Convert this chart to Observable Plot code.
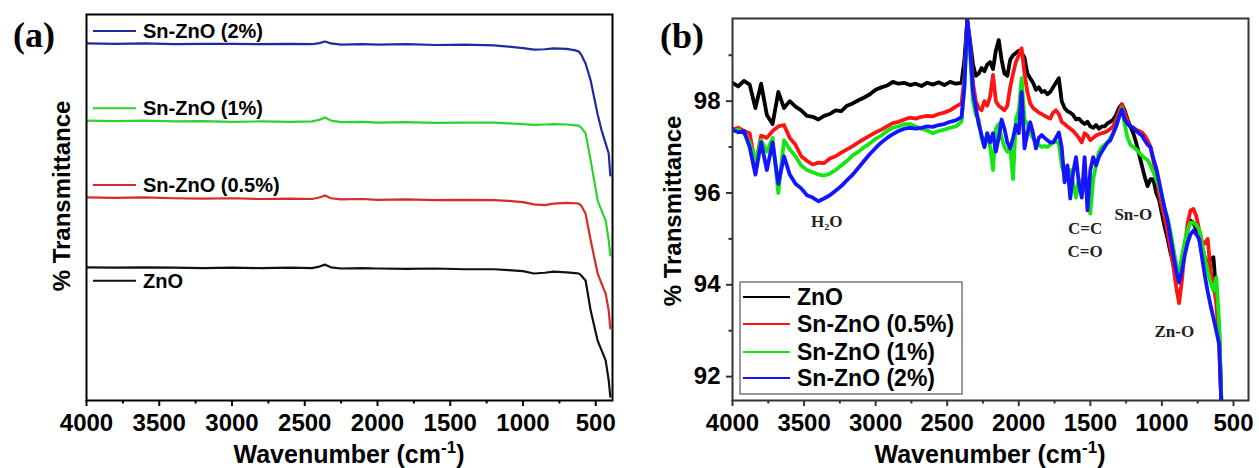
<!DOCTYPE html>
<html><head><meta charset="utf-8">
<script src="https://cdn.jsdelivr.net/npm/d3@7"></script>
<script src="https://cdn.jsdelivr.net/npm/@observablehq/plot@0.6"></script>
<style>
body{margin:0;background:#fff;}
#wrap{position:relative;width:1259px;height:468px;overflow:hidden;background:#fff;}
#pa{position:absolute;left:0;top:0;}
#pb{position:absolute;left:630px;top:0;}
</style></head><body><div id="wrap"><div id="pa"></div><div id="pb"></div></div>
<script>
// ---------- Panel (a) data ----------
const wnA = [4000,3800,3600,3400,3200,3000,2800,2600,2450,2400,2360,2320,2250,2100,2000,1800,1600,1400,1200,1100,1000,925,850,790,700,640,617,600,570,535,487,460,432,411,400];
const aBlue  = [92.5,92.4,92.5,92.3,92.4,92.4,92.3,92.4,92.3,92.6,93.0,92.5,92.2,92.3,92.2,92.3,92.1,92.2,92.0,91.7,91.3,90.9,91.0,91.2,91.1,90.7,90.4,89.6,87.3,82.9,74.1,70.0,66.6,64.0,58.3];
const aGreen = [72.5,72.4,72.5,72.3,72.4,72.2,72.3,72.2,72.3,72.7,73.3,72.5,72.1,72.2,72.0,72.1,71.9,72.0,72.0,71.8,71.6,71.4,71.5,71.6,71.5,71.3,71.2,70.7,69.2,62.2,51.8,49.2,46.6,41.5,37.6];
const aRed   = [52.6,52.5,52.6,52.4,52.3,52.4,52.2,52.3,52.2,52.6,53.1,52.4,52.1,52.2,52.0,52.1,51.9,52.0,51.9,51.7,51.4,50.8,50.6,51.0,51.2,51.1,51.0,50.5,48.4,41.5,32.9,30.3,27.7,23.3,18.7];
const aBlack = [34.5,34.4,34.5,34.4,34.3,34.4,34.3,34.4,34.3,34.7,35.2,34.5,34.2,34.3,34.2,34.1,34.2,34.0,34.0,33.8,33.5,32.9,33.1,33.4,33.2,33.0,32.9,32.4,31.1,23.3,15.5,13.0,10.4,5.2,1.0];
const namesA = ["Sn-ZnO (2%)","Sn-ZnO (1%)","Sn-ZnO (0.5%)","ZnO"];

// ---------- Panel (b) data ----------
const wnB = [4000,3960,3920,3880,3840,3800,3760,3720,3680,3640,3600,3560,3520,3480,3440,3400,3360,3320,3280,3240,3200,3160,3120,3080,3040,3000,2960,2920,2880,2840,2800,2760,2720,2680,2640,2600,2560,2520,2480,2440,2400,
2380,2360,2340,2320,2300,2280,2260,2240,2220,2200,2180,2160,2140,2120,2100,2080,2060,2040,2020,2000,1980,1960,1940,1920,1900,1880,1860,1840,1820,1800,1780,1760,1740,1720,1700,1680,1660,1640,1620,1600,1580,1560,1540,1520,1500,1480,1460,1440,1420,1400,1380,1360,1340,1320,1300,1280,1260,1240,1220,1200,1180,1160,1140,1120,1100,1080,1060,1040,1020,1000,980,960,940,920,900,880,860,840,820,800,780,760,740,720,700,680,660,640,620,600,580];
const bZnO = [98.40,98.32,98.44,98.36,97.85,98.38,97.70,97.50,98.20,97.85,
98.00,97.88,97.80,97.68,97.66,97.60,97.68,97.72,97.80,97.78,
97.90,97.95,98.02,98.08,98.15,98.25,98.30,98.34,98.42,98.38,
98.40,98.35,98.38,98.33,98.40,98.36,98.41,98.35,98.42,98.38,
98.40,
98.90,99.75,99.30,98.80,98.55,98.60,98.72,98.65,98.80,98.85,
98.70,99.10,99.33,98.90,98.60,98.55,98.90,99.00,99.05,99.10,
99.05,98.95,98.60,98.50,98.40,98.25,98.30,98.20,98.22,98.15,
98.20,98.30,98.40,98.50,98.00,97.85,97.78,97.75,97.70,97.60,
97.62,97.55,97.50,97.55,97.45,97.42,97.48,97.40,97.45,97.45,
97.52,97.55,97.60,97.70,97.85,97.93,97.80,97.60,97.45,97.30,
97.10,96.85,96.60,96.35,96.15,96.30,96.30,96.00,95.85,95.55,
95.25,95.00,94.70,94.45,94.25,94.25,94.55,94.85,95.20,95.40,
95.35,95.20,95.00,94.80,94.60,94.45,94.55,94.60,93.80,93.00,
91.00];
const bSn05 = [97.38,97.42,97.35,97.30,96.60,97.25,97.20,97.35,97.45,97.48,
97.20,97.05,96.80,96.70,96.62,96.66,96.65,96.75,96.80,96.88,
96.95,97.02,97.10,97.18,97.25,97.32,97.38,97.45,97.52,97.55,
97.60,97.64,97.62,97.66,97.68,97.67,97.72,97.75,97.80,97.88,
97.95,
98.50,99.75,99.20,98.40,98.00,97.85,97.80,98.00,97.90,98.10,
98.57,98.00,97.90,97.85,97.80,97.90,98.30,98.60,98.85,99.00,
99.15,98.60,98.20,97.95,97.85,97.80,97.75,97.72,97.68,97.65,
97.62,97.75,97.80,97.72,97.55,97.50,97.45,97.40,97.35,97.28,
97.20,97.10,97.30,97.25,97.15,97.20,97.25,97.28,97.30,97.32,
97.35,97.40,97.45,97.60,97.75,97.93,97.75,97.55,97.45,97.42,
97.38,97.35,97.32,97.25,97.15,97.00,96.70,96.40,96.00,95.70,
95.45,95.15,94.80,94.40,93.95,93.60,94.10,94.80,95.35,95.62,
95.65,95.50,95.20,94.95,94.90,95.00,94.30,94.00,93.60,92.70,
91.00];
const bSn1 = [97.35,97.38,97.30,97.10,96.70,97.15,96.90,97.20,96.00,97.15,
96.95,96.80,96.60,96.50,96.45,96.40,96.38,96.42,96.50,96.60,
96.70,96.82,96.90,97.00,97.08,97.18,97.25,97.35,97.42,97.45,
97.50,97.50,97.45,97.40,97.36,97.30,97.35,97.38,97.42,97.45,
97.55,
98.30,99.70,99.00,98.00,97.70,97.60,97.20,97.00,97.30,97.00,
96.50,97.40,97.50,97.20,97.00,96.90,97.00,96.30,97.60,97.80,
98.50,97.60,97.50,97.30,97.20,97.10,97.05,97.00,97.02,97.00,
97.05,97.10,97.12,97.08,96.60,96.40,96.45,96.50,96.20,95.90,
96.30,96.00,96.20,95.90,95.55,96.30,96.60,96.90,97.00,97.05,
97.10,97.20,97.30,97.45,97.65,97.85,97.50,97.20,97.05,97.00,
96.95,96.88,96.82,96.76,96.72,96.60,96.45,96.30,96.15,95.90,
95.65,95.45,95.15,94.80,94.45,94.25,94.60,94.95,95.20,95.35,
95.36,95.30,95.20,94.90,94.60,94.30,94.05,93.87,94.16,93.15,
91.00];
const bSn2 = [97.38,97.32,97.35,97.00,96.40,97.10,96.50,97.10,96.20,96.80,
96.40,96.20,96.10,95.95,95.90,95.82,95.88,95.95,96.05,96.15,
96.28,96.40,96.55,96.70,96.85,96.98,97.10,97.20,97.28,97.35,
97.40,97.42,97.40,97.42,97.45,97.44,97.48,97.50,97.55,97.58,
97.65,
98.30,99.80,99.20,98.20,97.85,97.50,97.26,97.00,97.30,97.10,
97.30,96.90,97.20,97.60,97.40,97.10,96.97,97.20,97.48,97.30,
98.20,96.97,97.30,97.54,97.30,96.97,97.20,97.26,97.20,97.15,
97.10,97.10,97.20,97.32,97.00,96.23,96.60,95.88,96.45,96.78,
96.20,95.90,96.78,95.62,96.50,96.78,96.60,96.78,96.90,97.00,
97.10,97.15,97.30,97.45,97.65,97.82,97.60,97.50,97.45,97.42,
97.35,97.30,97.25,97.15,97.05,97.00,96.75,96.55,96.25,95.95,
95.65,95.40,95.03,94.65,94.30,94.05,94.30,94.65,94.92,95.10,
95.18,95.10,95.00,94.60,94.20,93.85,93.55,93.28,93.00,92.70,
91.00];
const namesB = ["ZnO","Sn-ZnO (0.5%)","Sn-ZnO (1%)","Sn-ZnO (2%)"];

// axis ticks
const xMajor = [4000,3500,3000,2500,2000,1500,1000,500];
const xMinor = [3750,3250,2750,2250,1750,1250,750];
const yMajorB = [92,94,96,98];
const yMinorB = [93,95,97,99];

// annotations in panel (b)
const annText = ["H\u2082O","C=C","C=O","Sn-O","Zn-O"];
const annWn   = [3342,1536,1536,1200,913];
const annT    = [95.38,95.22,94.72,95.53,92.98];

// ---------- styling ----------
const SANS = '"Liberation Sans", Arial, sans-serif';
const SERIF = '"Liberation Serif", "Times New Roman", serif';
const colorsA = ["#1f2a9e","#2fd12f","#d52b2b","#111111"];
const colorsB = ["#000000","#ff1414","#14e614","#1414ff"];

function rows(wn, names, series){
  return names.flatMap((n,k)=> wn.map((w,i)=>({wn:w, t:series[k][i], name:n})));
}
const rowsA = rows(wnA, namesA, [aBlue,aGreen,aRed,aBlack]);
const rowsB = rows(wnB, namesB, [bZnO,bSn05,bSn1,bSn2]);

function addText(g, x, y, parts, opts){
  const t = g.append("text").attr("x",x).attr("y",y)
    .attr("font-family",opts.family||SANS).attr("font-weight","bold")
    .attr("font-size",opts.size).attr("fill",opts.fill||"#000")
    .attr("text-anchor",opts.anchor||"start");
  if (opts.transform) t.attr("transform",opts.transform);
  if (opts.baseline) t.attr("dominant-baseline",opts.baseline);
  if (typeof parts === "string") t.text(parts);
  else parts.forEach(p=>{ const s=t.append("tspan").text(p.text); if(p.size) s.attr("font-size",p.size); if(p.dy) s.attr("dy",p.dy); });
  return t;
}
function wavenumberLabel(g, cx, y){
  addText(g, cx, y, [{text:"Wavenumber (cm"},{text:"-1",size:17,dy:-10},{text:")",dy:10}], {size:25, anchor:"middle"});
}

// ---------- Panel (a) ----------
const A = Plot.plot({
  width:630, height:468, marginLeft:86, marginRight:18, marginTop:14, marginBottom:68,
  style:{fontFamily:SANS, fontWeight:"bold", fontSize:"24px", color:"#000", background:"#fff", overflow:"visible"},
  x:{domain:[4000,385]},
  y:{domain:[0,100], axis:null},
  color:{domain:namesA, range:colorsA},
  marks:[
    Plot.line(rowsA, {x:"wn", y:"t", z:"name", stroke:"name", strokeWidth:2.2, clip:true}),
    Plot.axisX({ticks:xMajor, tickFormat:d=>String(d), tickSize:6, tickPadding:7, strokeWidth:2, label:null, fontSize:24, fontWeight:"bold"}),
    Plot.axisX({ticks:xMinor, tickFormat:()=>"", tickSize:3.5, strokeWidth:2, label:null}),
    Plot.frame({stroke:"#000", strokeWidth:2})
  ]
});
document.getElementById("pa").appendChild(A);
{
  const sx = A.scale("x"), sy = A.scale("y");
  const g = d3.select(A).append("g");
  const left = 86;
  [aBlue,aGreen,aRed,aBlack].forEach((s,k)=>{
    const y0 = sy.apply(s[0]) + (namesA[k]==="ZnO" ? 14 : -12);
    g.append("line").attr("x1",left+7).attr("x2",left+50).attr("y1",y0).attr("y2",y0)
      .attr("stroke",colorsA[k]).attr("stroke-width",2);
    addText(g, left+57, y0, namesA[k], {size:20, baseline:"central"});
  });
  wavenumberLabel(g, 349, 463);
  addText(g, 0, 0, "% Transmittance", {size:24, anchor:"middle", baseline:"central", transform:"translate(61,196) rotate(-90)"});
  addText(g, 13, 47, "(a)", {size:36, family:SERIF});
}

// ---------- Panel (b) ----------
const B = Plot.plot({
  width:629, height:468, marginLeft:102, marginRight:11, marginTop:18, marginBottom:68,
  style:{fontFamily:SANS, fontWeight:"bold", fontSize:"24px", color:"#000", background:"#fff", overflow:"visible"},
  x:{domain:[4000,395]},
  y:{domain:[91.48,99.8]},
  color:{domain:namesB, range:colorsB},
  marks:[
    Plot.line(rowsB, {x:"wn", y:"t", z:"name", stroke:"name", strokeWidth:3.8, strokeLinejoin:"round", clip:true}),
    Plot.text(annText, {x:(d,i)=>annWn[i], y:(d,i)=>annT[i], text:d=>d, fontFamily:SERIF, fontWeight:"bold", fontSize:17, fill:"#222"}),
    Plot.axisX({ticks:xMajor, tickFormat:d=>String(d), tickSize:6, tickPadding:7, strokeWidth:2, stroke:"#333", label:null, fontSize:24, fontWeight:"bold"}),
    Plot.axisX({ticks:xMinor, tickFormat:()=>"", tickSize:3.5, strokeWidth:2, stroke:"#333", label:null}),
    Plot.axisY({ticks:yMajorB, tickFormat:d=>String(d), tickSize:6, tickPadding:6, strokeWidth:2, stroke:"#333", label:null, fontSize:24, fontWeight:"bold"}),
    Plot.axisY({ticks:yMinorB, tickFormat:()=>"", tickSize:3.5, strokeWidth:2, stroke:"#333", label:null}),
    Plot.frame({stroke:"#333", strokeWidth:2})
  ]
});
document.getElementById("pb").appendChild(B);
{
  const g = d3.select(B).append("g");
  const bx = 102+8, by = 468-68-6, bw = 222, bh = 112;
  g.append("rect").attr("x",bx).attr("y",by-bh).attr("width",bw).attr("height",bh)
    .attr("fill","#fff").attr("stroke","#777").attr("stroke-width",1.5);
  const rowY = [15,42,70,96];
  namesB.forEach((n,k)=>{
    const y = by-bh+rowY[k];
    g.append("line").attr("x1",bx+3).attr("x2",bx+50).attr("y1",y).attr("y2",y)
      .attr("stroke",colorsB[k]).attr("stroke-width",2.2);
    addText(g, bx+57, y, n, {size:23, baseline:"central"});
  });
  wavenumberLabel(g, 360, 463);
  addText(g, 0, 0, "% Transmittance", {size:24, anchor:"middle", baseline:"central", transform:"translate(42,211) rotate(-90)"});
  addText(g, 30, 48, "(b)", {size:36, family:SERIF});
}
</script></body></html>
